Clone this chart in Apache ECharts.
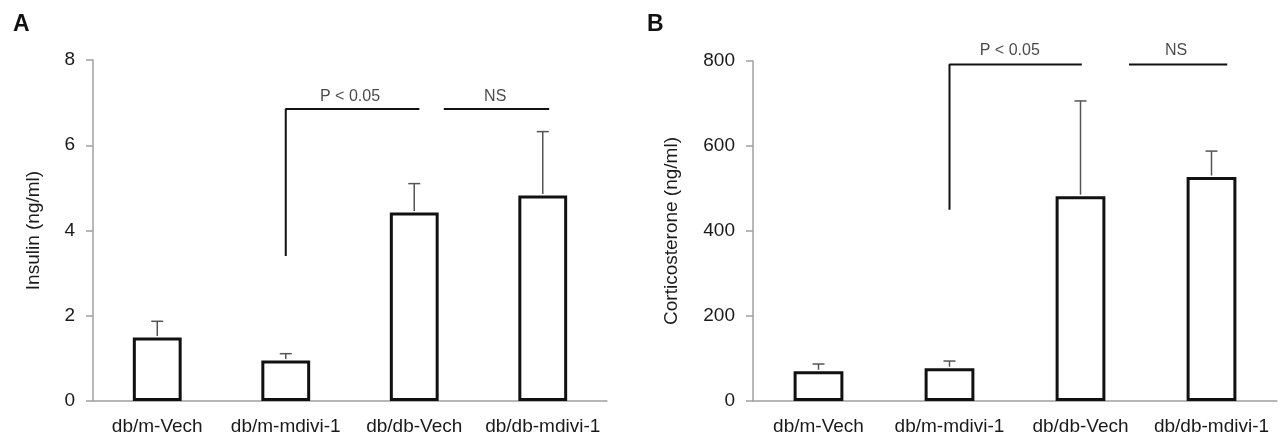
<!DOCTYPE html>
<html>
<head>
<meta charset="utf-8">
<script src="https://cdn.jsdelivr.net/npm/echarts@6/dist/echarts.min.js"></script>
<style>
html,body{margin:0;padding:0;background:#fff;}
#c{width:1282px;height:441px;}
</style>
</head>
<body>
<div id="c"></div>
<script>
// ---- data ----
const categories = ['db/m-Vech', 'db/m-mdivi-1', 'db/db-Vech', 'db/db-mdivi-1'];
const insulinMean = [1.49, 0.95, 4.42, 4.82];
const insulinSD = [0.38, 0.16, 0.68, 1.50];
const corticoMean = [70, 77, 482, 527];
const corticoSD = [17, 17, 224, 61];
const insulinTicks = [0, 2, 4, 6, 8];
const corticoTicks = [0, 200, 400, 600, 800];
// brackets: [x, y] in category-index / value units
const bracketA_P = [[1, 3.4], [1, 6.85], [2.04, 6.85]];
const bracketA_NS = [[2.23, 6.85], [3.05, 6.85]];
const bracketB_P = [[1, 450], [1, 792], [2.01, 792]];
const bracketB_NS = [[2.37, 792], [3.12, 792]];
const textA = [[1.50, 7.13, 'P < 0.05'], [2.63, 7.13, 'NS']];
const textB = [[1.46, 825, 'P < 0.05'], [2.73, 825, 'NS']];

const FONT = '"Liberation Sans", Arial, sans-serif';
const TXT = '#1a1a1a';
const AX = '#a0a0a0';

function catAxis(gi) {
  return {
    type: 'category', gridIndex: gi, data: categories,
    axisLine: { onZero: false, lineStyle: { color: AX, width: 1.5 } },
    axisTick: { show: false },
    axisLabel: { color: TXT, fontSize: 19, fontFamily: FONT, margin: 16, interval: 0 }
  };
}
function valXAxis(gi) {
  return { type: 'value', gridIndex: gi, min: -0.5, max: 3.5, show: false };
}
function valYAxis(gi, ticks, name, gap) {
  return {
    type: 'value', gridIndex: gi, min: ticks[0], max: ticks[ticks.length - 1],
    interval: ticks[1] - ticks[0],
    name: name, nameLocation: 'middle', nameGap: gap, nameRotate: 90,
    nameTextStyle: { color: TXT, fontSize: 19, fontFamily: FONT },
    axisLine: { show: true, onZero: false, lineStyle: { color: AX, width: 1.5 } },
    axisTick: { show: true, length: 7, lineStyle: { color: AX, width: 1.5 } },
    splitLine: { show: false },
    axisLabel: { color: TXT, fontSize: 19, fontFamily: FONT, margin: 18 }
  };
}
function barSeries(ax, mean) {
  return {
    type: 'bar', xAxisIndex: ax, yAxisIndex: ax, data: mean, barWidth: '38%',
    itemStyle: { color: '#fff', borderColor: '#111', borderWidth: 3 },
    z: 3
  };
}
function errSeries(ax, mean, sd) {
  return {
    type: 'custom', xAxisIndex: ax, yAxisIndex: ax,
    data: mean.map((m, i) => [i, m, m + sd[i]]),
    renderItem: function (params, api) {
      const lo = api.coord([api.value(0), api.value(1)]);
      const hi = api.coord([api.value(0), api.value(2)]);
      const x = lo[0];
      const style = { stroke: '#555', lineWidth: 1.5 };
      return {
        type: 'group', children: [
          { type: 'line', shape: { x1: x, y1: lo[1] - 1.5, x2: x, y2: hi[1] }, style: style },
          { type: 'line', shape: { x1: x - 6, y1: hi[1], x2: x + 6, y2: hi[1] }, style: style }
        ]
      };
    },
    z: 2
  };
}
function bracket(xi, yi, pts) {
  return {
    type: 'line', xAxisIndex: xi, yAxisIndex: yi, data: pts, symbol: 'none',
    lineStyle: { color: '#111', width: 2 }, animation: false, clip: false, z: 4
  };
}
function texts(xi, yi, pts) {
  return {
    type: 'scatter', xAxisIndex: xi, yAxisIndex: yi, data: pts, symbolSize: 1,
    clip: false,
    itemStyle: { color: 'transparent' },
    label: {
      show: true, position: 'inside', formatter: p => p.data[2],
      color: TXT, fontSize: 16, fontFamily: FONT
    }, z: 5
  };
}

const chart = echarts.init(document.getElementById('c'), null, { renderer: 'canvas' });
chart.setOption({
  animation: false,
  backgroundColor: '#fff',
  title: [
    { text: 'A', left: 8, top: 8, textStyle: { fontSize: 23, fontWeight: 'bold', color: '#111', fontFamily: FONT } },
    { text: 'B', left: 642, top: 8, textStyle: { fontSize: 23, fontWeight: 'bold', color: '#111', fontFamily: FONT } }
  ],
  grid: [
    { left: 93, right: 675, top: 60, bottom: 40 },
    { left: 753, right: 5, top: 61, bottom: 40 }
  ],
  xAxis: [catAxis(0), catAxis(1), valXAxis(0), valXAxis(1)],
  yAxis: [
    valYAxis(0, insulinTicks, 'Insulin (ng/ml)', 50),
    valYAxis(1, corticoTicks, 'Corticosterone (ng/ml)', 72)
  ],
  series: [
    barSeries(0, insulinMean),
    errSeries(0, insulinMean, insulinSD),
    barSeries(1, corticoMean),
    errSeries(1, corticoMean, corticoSD),
    bracket(2, 0, bracketA_P),
    bracket(2, 0, bracketA_NS),
    bracket(3, 1, bracketB_P),
    bracket(3, 1, bracketB_NS),
    texts(2, 0, textA),
    texts(3, 1, textB)
  ]
});
</script>
</body>
</html>
